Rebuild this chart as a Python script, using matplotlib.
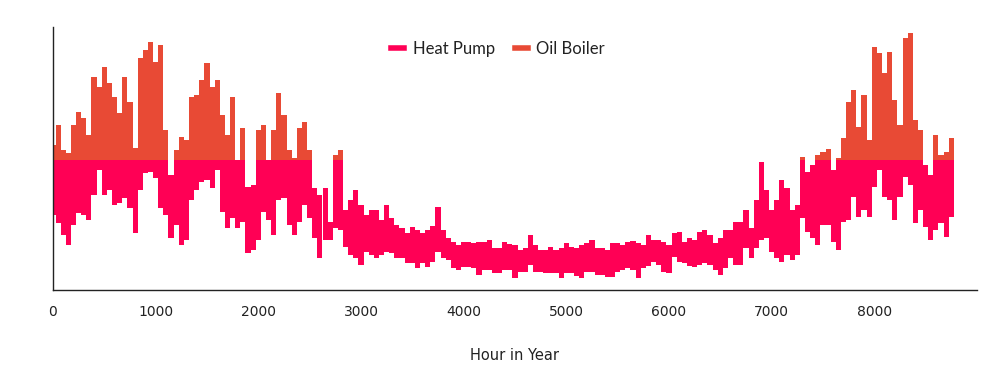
import matplotlib
matplotlib.use("Agg")
import matplotlib.pyplot as plt
import numpy as np
from matplotlib.lines import Line2D

# hourly profile, summarised every 50 hours (min / max of each block)
hours = np.arange(0, 8760, 50)

hp_cap = 13.0  # heat pump output is capped here, oil boiler tops up above it

hp_high = [
    13.0, 13.0, 13.0, 13.0, 13.0, 13.0, 13.0, 13.0, 13.0, 13.0, 13.0, 13.0, 13.0, 13.0, 13.0, 13.0,
    13.0, 13.0, 13.0, 13.0, 13.0, 13.0, 13.0, 11.5, 13.0, 13.0, 13.0, 13.0, 13.0, 13.0, 13.0, 13.0,
    13.0, 13.0, 13.0, 13.0, 13.0, 13.0, 10.3, 10.5, 13.0, 13.0, 13.0, 13.0, 13.0, 13.0, 13.0, 13.0,
    13.0, 13.0, 13.0, 10.2, 9.5, 10.2, 6.8, 13.0, 13.0, 8.0, 9.0, 10.0, 8.5, 7.5, 8.0, 8.0,
    7.0, 8.5, 7.2, 6.5, 6.2, 5.7, 6.3, 6.0, 5.7, 6.0, 6.4, 8.3, 6.0, 5.2, 4.8, 4.5,
    4.8, 4.8, 4.7, 4.8, 4.8, 5.0, 4.2, 4.2, 4.8, 4.6, 4.5, 4.0, 4.2, 5.5, 4.5, 4.0,
    4.0, 4.3, 4.0, 4.2, 4.7, 4.3, 4.2, 4.5, 4.7, 5.0, 4.2, 4.2, 4.0, 4.7, 4.7, 4.5,
    4.8, 4.9, 4.7, 4.5, 5.5, 5.0, 5.0, 4.8, 4.5, 5.7, 5.8, 4.8, 5.2, 5.0, 5.8, 6.0,
    5.5, 4.7, 5.2, 6.0, 6.0, 6.8, 6.8, 8.0, 6.2, 9.0, 12.8, 10.0, 8.0, 9.0, 11.0, 10.2,
    8.0, 8.5, 13.0, 11.8, 12.5, 13.0, 13.0, 13.0, 12.0, 13.0, 13.0, 13.0, 13.0, 13.0, 13.0, 13.0,
    13.0, 13.0, 13.0, 13.0, 13.0, 13.0, 13.0, 13.0, 13.0, 13.0, 12.5, 11.5, 13.0, 13.0, 13.0, 13.0,
]

hp_low = [
    7.5, 6.7, 5.5, 4.5, 6.5, 7.7, 7.5, 7.0, 9.5, 12.0, 9.5, 10.0, 8.5, 8.7, 9.2, 8.2,
    5.7, 10.0, 11.7, 11.8, 11.2, 8.2, 7.5, 5.2, 6.5, 4.5, 5.0, 9.0, 10.0, 10.8, 11.0, 10.2,
    12.0, 7.8, 6.2, 7.2, 6.2, 6.8, 3.7, 4.0, 5.0, 7.8, 7.0, 5.5, 9.0, 9.2, 6.5, 5.5,
    6.8, 8.5, 7.2, 5.2, 3.2, 5.0, 5.0, 6.2, 6.0, 4.3, 3.5, 3.2, 2.5, 3.8, 3.5, 3.2,
    3.5, 3.8, 3.7, 3.2, 3.2, 2.7, 2.7, 2.2, 2.7, 2.3, 2.8, 3.8, 3.2, 3.0, 2.2, 2.0,
    2.3, 2.3, 2.2, 1.5, 2.0, 2.0, 1.7, 1.7, 2.0, 2.0, 1.2, 1.8, 1.8, 2.5, 1.8, 1.8,
    1.7, 1.7, 1.7, 1.2, 1.7, 1.7, 1.4, 1.2, 1.8, 1.8, 1.5, 1.5, 1.3, 1.3, 1.8, 2.0,
    2.2, 2.0, 1.2, 2.2, 2.4, 2.8, 2.5, 1.8, 1.7, 3.3, 2.8, 2.7, 2.4, 2.3, 2.5, 2.7,
    2.5, 2.0, 1.5, 2.2, 3.2, 2.5, 2.5, 4.2, 3.2, 4.2, 5.0, 5.2, 3.8, 3.2, 2.8, 3.5,
    3.0, 3.5, 7.2, 5.8, 5.2, 4.5, 6.5, 6.5, 4.8, 4.0, 6.8, 7.0, 9.3, 7.3, 8.0, 7.3,
    10.3, 12.0, 9.3, 9.0, 7.0, 9.3, 11.3, 10.5, 6.7, 8.0, 6.3, 5.0, 6.0, 6.7, 5.3, 7.3,
]

nan = np.nan
oil_boiler = [
    1.5, 3.5, 1.0, 0.7, 3.5, 4.8, 4.2, 2.5, 8.3, 7.3, 9.3, 7.7, 6.3, 4.7, 8.3, 5.8,
    1.2, 10.2, 11.0, 11.8, 9.8, 11.5, 3.0, nan, 1.0, 2.3, 2.0, 6.3, 6.5, 8.0, 9.7, 7.3,
    8.0, 4.5, 2.5, 6.3, nan, 3.2, nan, nan, 3.0, 3.5, nan, 3.0, 6.7, 4.5, 1.0, 0.2,
    3.2, 3.8, 1.0, nan, nan, nan, nan, 0.5, 1.0, nan, nan, nan, nan, nan, nan, nan,
    nan, nan, nan, nan, nan, nan, nan, nan, nan, nan, nan, nan, nan, nan, nan, nan,
    nan, nan, nan, nan, nan, nan, nan, nan, nan, nan, nan, nan, nan, nan, nan, nan,
    nan, nan, nan, nan, nan, nan, nan, nan, nan, nan, nan, nan, nan, nan, nan, nan,
    nan, nan, nan, nan, nan, nan, nan, nan, nan, nan, nan, nan, nan, nan, nan, nan,
    nan, nan, nan, nan, nan, nan, nan, nan, nan, nan, nan, nan, nan, nan, nan, nan,
    nan, nan, 0.3, nan, nan, 0.5, 0.8, 1.1, nan, 0.2, 2.2, 5.8, 7.0, 3.3, 6.5, 2.0,
    11.3, 10.7, 8.7, 10.8, 6.0, 3.5, 12.2, 12.7, 4.0, 3.0, nan, nan, 2.5, 0.5, 0.8, 2.2,
]

hp_color = '#ff0055'
oil_color = '#e84a35'

hp_high = np.array(hp_high)
hp_low = np.array(hp_low)
oil_boiler = np.array(oil_boiler)

fig = plt.figure(figsize=(9.95, 3.84), dpi=100)
ax = fig.add_axes([53/995, 94/384, 924/995, 263/384])

ax.bar(hours, hp_high - hp_low, bottom=hp_low, width=50, color=hp_color, linewidth=0)
ax.bar(hours, oil_boiler, bottom=hp_cap, width=50, color=oil_color, linewidth=0)

ax.set_xlim(0, 9000)
ax.set_ylim(0, 26.3)
ax.set_yticks([])
ax.set_xticks(np.arange(0, 9000, 1000))
ax.tick_params(axis='x', length=0, pad=11, labelsize=10, labelcolor='#222222')
for lab in ax.get_xticklabels():
    lab.set_family(['Liberation Sans Narrow', 'DejaVu Sans'])

for s in ['top', 'right']:
    ax.spines[s].set_visible(False)
for s in ['left', 'bottom']:
    ax.spines[s].set_color('#222222')
    ax.spines[s].set_linewidth(1)

ax.set_xlabel('Hour in Year', fontsize=10.5, labelpad=21, color='#222222',
              family=['Liberation Sans Narrow', 'DejaVu Sans'])

handles = [Line2D([], [], color=hp_color, lw=4), Line2D([], [], color=oil_color, lw=4)]
fig.legend(handles, ['Heat Pump', 'Oil Boiler'], loc='center', ncol=2,
           bbox_to_anchor=(498/995, 1 - 49/384), frameon=False,
           prop={'family': 'Lato', 'size': 12}, handlelength=0.8,
           handletextpad=0.5, columnspacing=1.2, labelcolor='#222222')

fig.savefig('out.png', dpi=100)
